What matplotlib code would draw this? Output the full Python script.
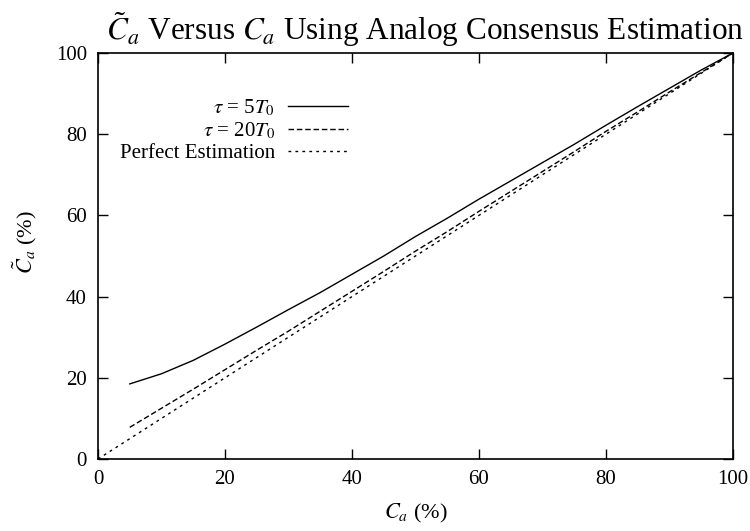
import matplotlib
matplotlib.use("Agg")
import matplotlib.pyplot as plt

plt.rcParams['font.family'] = ['Liberation Serif', 'DejaVu Serif']
plt.rcParams['mathtext.fontset'] = 'stix'

x_vals = [5, 10, 15, 20, 25, 30, 35, 40, 45, 50, 55, 60, 65, 70, 75, 80, 85, 90, 95, 100]
tau5 = [18.5, 21, 24.3, 28.3, 32.5, 36.8, 41, 45.5, 50, 54.8, 59.3, 64, 68.5, 73, 77.5, 82.2, 86.8, 91.3, 95.8, 100]
tau20 = [7.8, 12.5, 17.2, 22, 26.8, 31.5, 36.4, 41.3, 46.2, 51.2, 56, 61, 65.9, 70.8, 75.7, 80.7, 85.5, 90.4, 95.2, 100]
perfect_x = [0, 100]
perfect_y = [0, 100]
labels = [r'$\tau$ = 5$T_0$', r'$\tau$ = 20$T_0$', 'Perfect Estimation']
ticks = [0, 20, 40, 60, 80, 100]

fig = plt.figure(figsize=(7.5, 5.31), dpi=100)
ax = fig.add_axes([0.1307, 0.1356, 0.8463, 0.7644])

ax.plot(x_vals, tau5, color='black', lw=1.0, label=labels[0])
ax.plot(x_vals, tau20, color='black', lw=1.0, dashes=(4, 2), label=labels[1])
ax.plot(perfect_x, perfect_y, color='black', lw=1.0, dashes=(2, 3), label=labels[2])

ax.set_xlim(0, 100)
ax.set_ylim(0, 100)
ax.set_xticks(ticks)
ax.set_yticks(ticks)
ax.tick_params(direction='in', top=True, right=True, length=7, width=1, labelsize=15, pad=8)
for s in ax.spines.values():
    s.set_linewidth(1.2)

ax.set_xlabel(r'$C_a$' + ' (%)', fontsize=16)
ax.xaxis.set_label_coords(0.5, -0.105)
ax.set_ylabel(r'$\tilde{C}_a$' + ' (%)', fontsize=16)
ax.yaxis.set_label_coords(-0.093, 0.534)

fig.text(0.567, 1 - 40 / 531, r'$\tilde{C}_a$ Versus $C_a$ Using Analog Consensus Estimation',
         fontsize=22.5, ha='center', va='baseline')

leg = ax.legend(loc='upper right', bbox_to_anchor=(0.394, 0.89), frameon=False, markerfirst=False,
                fontsize=15, handlelength=2.9, handletextpad=0.6, labelspacing=0.1,
                borderaxespad=0, borderpad=0)

fig.savefig('out.png', dpi=100)
